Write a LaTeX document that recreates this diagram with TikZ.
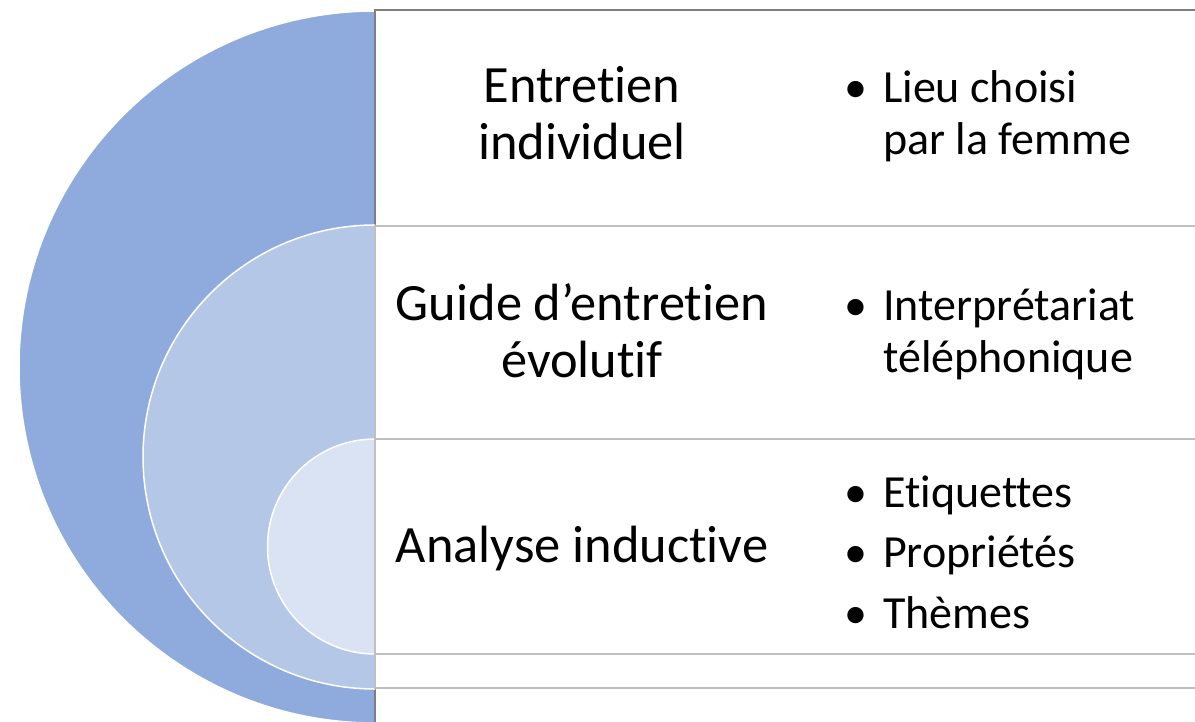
\documentclass[tikz,border=0pt]{standalone}
\usepackage{fontspec}
\setmainfont{Carlito}[Ligatures={NoCommon},Contextuals={NoAlternate}]
\definecolor{cbig}{HTML}{8FAADC}
\definecolor{cmed}{HTML}{B4C7E7}
\definecolor{csmall}{HTML}{DAE3F3}
\definecolor{gdark}{HTML}{7F7F7F}
\definecolor{glight}{HTML}{BFBFBF}
\begin{document}
\begin{tikzpicture}[x=1pt,y=-1pt,
  ring/.style={draw=white,line width=1.5pt},
  boxdark/.style={draw=gdark,line width=2pt,fill=white},
  boxlight/.style={draw=glight,line width=2pt,fill=white},
  lab/.style={font=\fontsize{52.4}{57}\selectfont,anchor=base,inner sep=0pt},
  itm/.style={font=\fontsize{46}{52}\selectfont,anchor=base west,inner sep=0pt},
  bul/.style={font=\fontsize{46}{52}\selectfont,anchor=base,inner sep=0pt}]
\useasboundingbox (0,0) rectangle (1195,722);
% outer ring
\begin{scope}
  \clip (0,0) rectangle (375,740);
  \fill[cbig,ring] (375,367) circle[radius=356pt];
\end{scope}
\draw[boxdark] (375,10) rectangle (1210,740);
% middle ring
\begin{scope}
  \clip (0,0) rectangle (375,740);
  \fill[cmed,ring] (375,457) circle[radius=232pt];
\end{scope}
\draw[boxlight] (375,226) rectangle (1210,688);
% inner ring
\begin{scope}
  \clip (0,0) rectangle (375,740);
  \fill[csmall,ring] (375,546.5) circle[radius=107.5pt];
\end{scope}
\draw[boxlight] (375,439) rectangle (1210,654);
% labels
\node[lab] (t1a) at (582,103) {Entretien};
\node[lab] (t1b) at (582,160) {individuel};
\node[lab] (t2a) at (582,320) {Guide d’entretien};
\node[lab] (t2b) at (582,377) {évolutif};
\node[lab] (t3) at (582,562) {Analyse inductive};
% bullets
\node[bul] (u1) at (856,103) {•};
\node[itm] (b1a) at (883,103) {Lieu choisi};
\node[itm] (b1b) at (883,155) {par la femme};
\node[bul] (u2) at (856,320) {•};
\node[itm] (b2a) at (883,320) {Interprétariat};
\node[itm] (b2b) at (883,372) {téléphonique};
\node[bul] (u3) at (856,507) {•};
\node[itm] (b3a) at (883,507) {Etiquettes};
\node[bul] (u4) at (856,567) {•};
\node[itm] (b3b) at (883,567) {Propriétés};
\node[bul] (u5) at (856,628) {•};
\node[itm] (b3c) at (883,628) {Thèmes};
\end{tikzpicture}
\end{document}
